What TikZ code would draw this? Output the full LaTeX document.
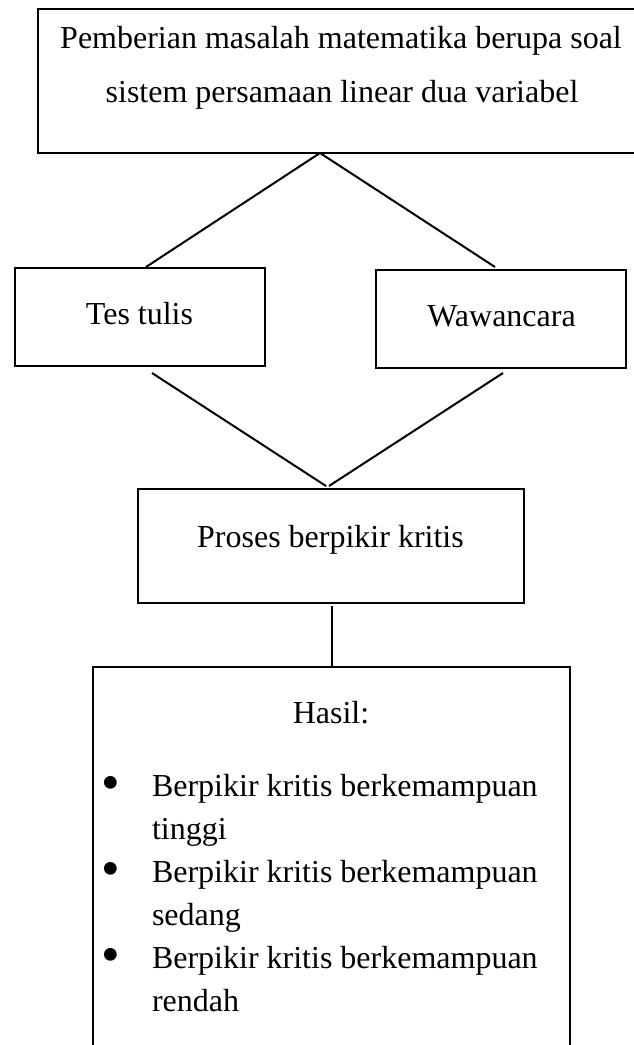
\documentclass[tikz,border=0pt]{standalone}
\usepackage{fontspec}
\setmainfont{Liberation Serif}
\usetikzlibrary{calc}
\newlength\pxu
\setlength\pxu{0.75pt}
\tikzset{
  boxnode/.style={draw=black, line width=1.5pt, rectangle, inner sep=0pt, outer sep=0pt},
  conn/.style={draw=black, line width=1.5pt},
  txt/.style={inner sep=0pt, outer sep=0pt, anchor=base, font=\fontsize{24}{24}\selectfont},
  ltxt/.style={inner sep=0pt, outer sep=0pt, anchor=base west, font=\fontsize{24}{24}\selectfont},
  bul/.style={inner sep=0pt, outer sep=0pt, anchor=center, font=\fontsize{40}{40}\selectfont}
}
\begin{document}
\begin{tikzpicture}[x=0.75pt,y=-0.75pt]
\useasboundingbox[fill=white] (0,0) rectangle (634,1045);
% boxes
\node[boxnode, minimum width=612\pxu, minimum height=144\pxu] (topbox) at (344,81) {};
\node[boxnode, minimum width=250\pxu, minimum height=98\pxu] (tes) at (140,317) {};
\node[boxnode, minimum width=250\pxu, minimum height=98\pxu] (waw) at (501,319) {};
\node[boxnode, minimum width=386\pxu, minimum height=114\pxu] (proses) at (331,546) {};
\node[boxnode, minimum width=477\pxu, minimum height=400\pxu] (hasil) at (331.5,867) {};
% texts
\node[txt] (t1) at (341,49) {Pemberian masalah matematika berupa soal};
\node[txt] (t2) at (342,103) {sistem persamaan linear dua variabel};
\node[txt] (t3) at (139.5,324) {Tes tulis};
\node[txt] (t4) at (501.5,326) {Wawancara};
\node[txt] (t5) at (330.5,547) {Proses berpikir kritis};
\node[txt] (t6) at (331,723) {Hasil:};
\node[bul] (b1) at (110.7,788) {•};
\node[bul] (b2) at (110.7,874) {•};
\node[bul] (b3) at (110.7,960) {•};
\node[ltxt] (l1) at (152,796) {Berpikir kritis berkemampuan};
\node[ltxt] (l2) at (152,839) {tinggi};
\node[ltxt] (l3) at (152,882) {Berpikir kritis berkemampuan};
\node[ltxt] (l4) at (152,925) {sedang};
\node[ltxt] (l5) at (152,968) {Berpikir kritis berkemampuan};
\node[ltxt] (l6) at (152,1011) {rendah};
% connectors
\coordinate (apex) at ($(topbox.south west)+(282,0)$);
\draw[conn] (apex) -- ($(tes.north)+(6,-1)$);
\draw[conn] (apex) -- ($(waw.north)+(-6,-3)$);
\draw[conn] ($(tes.south)+(12,7)$) -- ($(proses.north)+(-5,-3)$);
\draw[conn] ($(waw.south)+(2,5)$) -- ($(proses.north)+(-2,-3)$);
\draw[conn] ($(proses.south)+(1,3)$) -- ($(hasil.north)+(0.5,0)$);
\end{tikzpicture}
\end{document}
